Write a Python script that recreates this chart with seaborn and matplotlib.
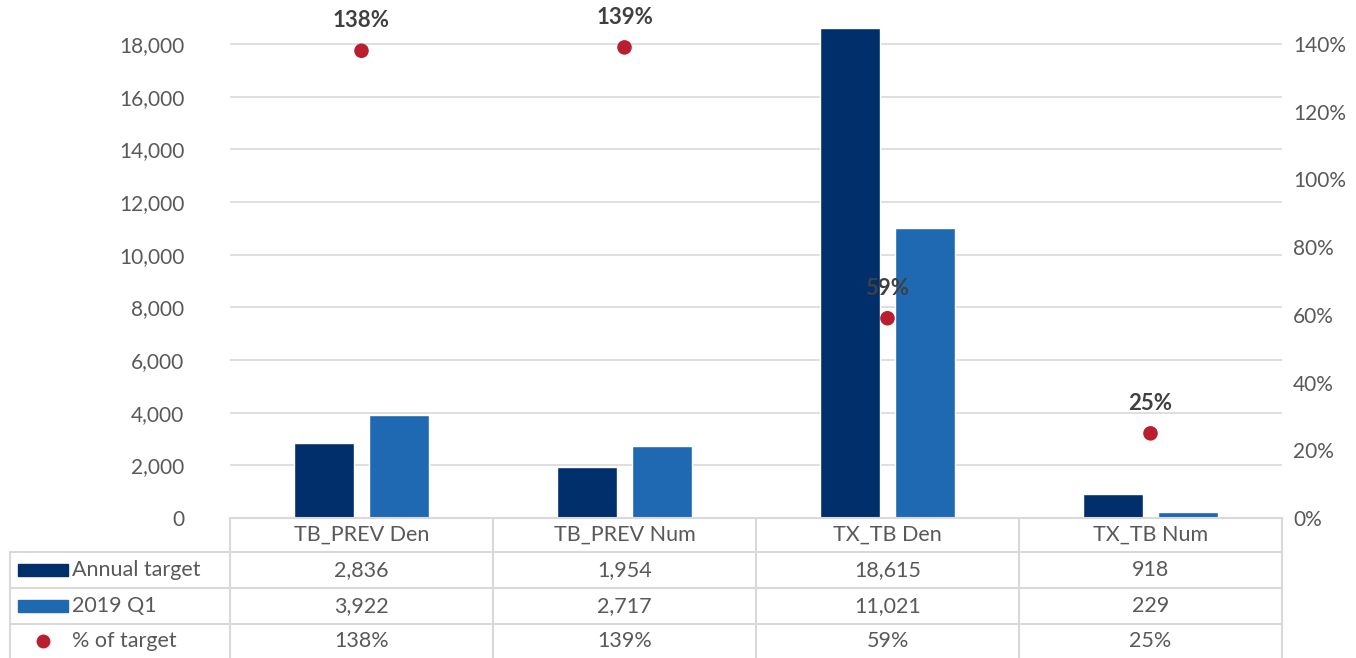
import matplotlib.pyplot as plt
import matplotlib.transforms as mtransforms
from matplotlib.lines import Line2D
from matplotlib.patches import Rectangle
from matplotlib.ticker import FuncFormatter
import pandas as pd
import seaborn as sns

categories = ["TB_PREV Den", "TB_PREV Num", "TX_TB Den", "TX_TB Num"]
annual_target = [2836, 1954, 18615, 918]
q1_2019 = [3922, 2717, 11021, 229]
pct_of_target = [1.38, 1.39, 0.59, 0.25]
series_names = ["Annual target", "2019 Q1", "% of target"]

navy = "#002f6c"
blue = "#1f69b3"
red = "#ba1f2f"
txt = "#595959"
grid = "#d9d9d9"

sns.set_theme(style="white")
plt.rcParams['font.family'] = ['Lato', 'DejaVu Sans']

df = pd.DataFrame({
    "indicator": categories * 2,
    "value": annual_target + q1_2019,
    "series": [series_names[0]] * 4 + [series_names[1]] * 4,
})

fig = plt.figure(figsize=(13.56, 6.58), dpi=100)
ax = fig.add_axes([230 / 1356, 1 - 518 / 658, 1052 / 1356, 518 / 658])

sns.barplot(data=df, x="indicator", y="value", hue="series", order=categories,
            hue_order=series_names[:2], palette=[navy, blue], width=0.576, gap=0.21,
            saturation=1, legend=False, ax=ax)

ymax = 18000 * 518 / 474
ax.set_ylim(0, ymax)
ax.set_xlim(-0.5, len(categories) - 0.5)
ax.set_yticks(range(0, 18001, 2000))
ax.yaxis.set_major_formatter(FuncFormatter(lambda v, p: f"{int(v):,}"))
ax.tick_params(axis="y", colors=txt, labelsize=15, length=0, pad=33)
ax.tick_params(axis="x", length=0, labelbottom=False)
ax.set_xlabel("")
ax.set_ylabel("")
ax.yaxis.grid(True, color=grid, linewidth=1.2)
ax.set_axisbelow(True)
for s in ax.spines.values():
    s.set_visible(False)

# secondary axis for % of target
ax2 = ax.twinx()
xpos = list(range(len(categories)))
sns.scatterplot(x=xpos, y=pct_of_target, color=red, s=110, edgecolor="none",
                legend=False, ax=ax2, zorder=5)
ax2.set_ylim(0, 1.4 * ymax / 18000)
ax2.set_xlim(-0.5, len(categories) - 0.5)
ax2.set_yticks([i / 10 for i in range(0, 15, 2)])
ax2.yaxis.set_major_formatter(FuncFormatter(lambda v, p: f"{v:.0%}"))
ax2.tick_params(axis="y", colors=txt, labelsize=15, length=0, pad=8)
ax2.set_ylabel("")
for s in ax2.spines.values():
    s.set_visible(False)

for x, p in zip(xpos, pct_of_target):
    ax2.annotate(f"{p:.0%}", (x, p), xytext=(0, 14), textcoords="offset points",
                 ha="center", va="bottom", fontsize=16, fontweight="bold", color="#404040")

# data table below the chart
blend = mtransforms.blended_transform_factory(ax.transData, fig.transFigure)
row_lines = [1 - 518 / 658, 1 - 552 / 658, 1 - 588 / 658, 1 - 624 / 658]
row_mid = [1 - 535 / 658, 1 - 570 / 658, 1 - 606 / 658, 1 - 641 / 658]
left_x = 10 / 1356
ax_left = 230 / 1356
ax_right = 1282 / 1356

fig.add_artist(Line2D([ax_left, ax_right], [row_lines[0]] * 2, color=grid, lw=1.5,
                      transform=fig.transFigure))
for y in row_lines[1:]:
    fig.add_artist(Line2D([left_x, ax_right], [y, y], color=grid, lw=1.5,
                          transform=fig.transFigure))
fig.add_artist(Line2D([left_x, left_x], [0, row_lines[1]], color=grid, lw=1.5,
                      transform=fig.transFigure))
for i in range(len(categories) + 1):
    fig.add_artist(Line2D([i - 0.5, i - 0.5], [0, row_lines[0]], color=grid, lw=1.5,
                          transform=blend))

for i, c in enumerate(categories):
    fig.text(i, row_mid[0], c, transform=blend, ha="center", va="center",
             fontsize=15.5, color=txt)
    fig.text(i, row_mid[1], f"{annual_target[i]:,}", transform=blend, ha="center",
             va="center", fontsize=15.5, color=txt)
    fig.text(i, row_mid[2], f"{q1_2019[i]:,}", transform=blend, ha="center",
             va="center", fontsize=15.5, color=txt)
    fig.text(i, row_mid[3], f"{pct_of_target[i]:.0%}", transform=blend, ha="center",
             va="center", fontsize=15.5, color=txt)

# legend keys in the first column
for y, col in zip(row_mid[1:3], [navy, blue]):
    fig.add_artist(Rectangle((18 / 1356, y - 6 / 658), 50 / 1356, 12 / 658,
                             color=col, transform=fig.transFigure))
fig.add_artist(Line2D([43 / 1356], [row_mid[3]], marker="o", markersize=10, color=red,
                      markeredgewidth=0, transform=fig.transFigure))
for y, name in zip(row_mid[1:], series_names):
    fig.text(72 / 1356, y, name, ha="left", va="center", fontsize=15.5, color=txt)

fig.savefig("out.png", dpi=100)
